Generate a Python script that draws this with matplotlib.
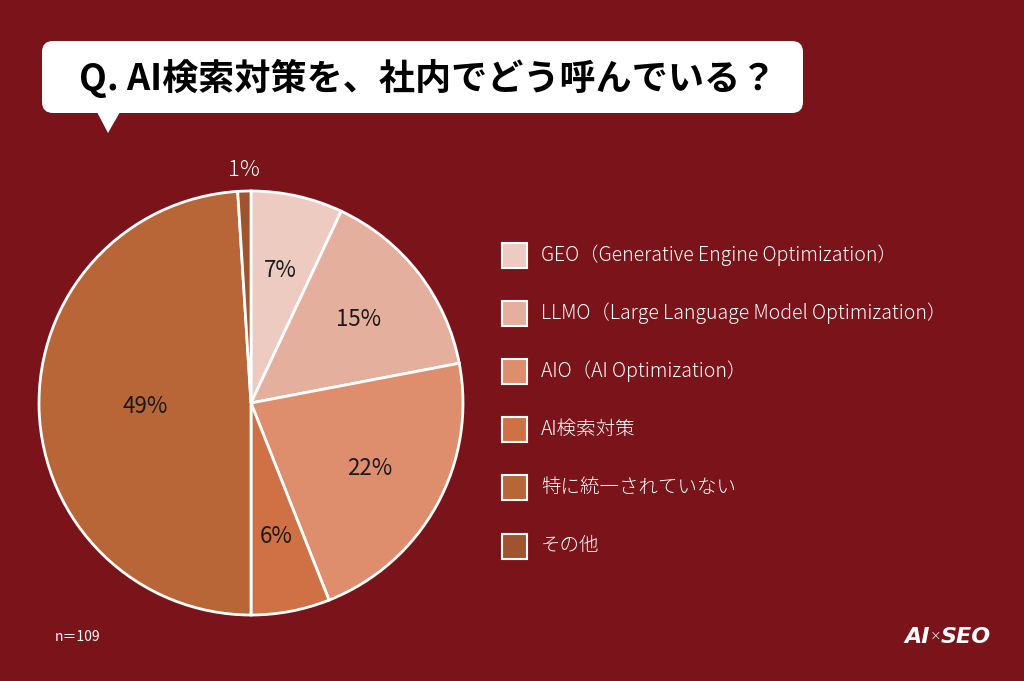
import matplotlib.pyplot as plt
from matplotlib.patches import FancyBboxPatch, Polygon, Rectangle

plt.rcParams['font.family'] = ['Noto Sans CJK JP', 'DejaVu Sans']

title = 'Q. AI検索対策を、社内でどう呼んでいる？'
labels = ['GEO（Generative Engine Optimization）',
          'LLMO（Large Language Model Optimization）',
          'AIO（AI Optimization）',
          'AI検索対策',
          '特に統一されていない',
          'その他']
shares = [7, 15, 22, 6, 49, 1]
colors = ['#EDCBC1', '#E5AF9D', '#DE8D6D', '#CF7144', '#B86538', '#A0532F']
n_text = 'n＝109'

W, H = 1024, 681
bg = '#7A141A'

fig = plt.figure(figsize=(W / 100, H / 100), dpi=100, facecolor=bg)
ax = fig.add_axes([0, 0, 1, 1])

def py(y):
    # convert top-down pixel y to axes y
    return H - y

# pie
cx, cy, r = 251, py(403), 212
wedges, texts, autotexts = ax.pie(
    shares, colors=colors, startangle=90, counterclock=False,
    center=(cx, cy), radius=r, autopct='%d%%', pctdistance=0.64,
    wedgeprops=dict(edgecolor='white', linewidth=2),
    textprops=dict(fontsize=16, color='#1a1a1a'))
ax.set_xlim(0, W)
ax.set_ylim(0, H)
ax.set_aspect('equal')
ax.axis('off')

for i, t in enumerate(autotexts):
    t.set_text(f'{shares[i]}%')
    x, y = t.get_position()
    if shares[i] == 49:
        k = 0.5 / 0.64
        t.set_position((cx + (x - cx) * k, cy + (y - cy) * k))
    if shares[i] == 1:
        k = 1.1 / 0.64
        t.set_position((cx + (x - cx) * k, cy + (y - cy) * k))
        t.set_color('white')
        t.set_fontweight('light')

# title bubble
bubble = FancyBboxPatch((42, py(113)), 761, 72,
                        boxstyle='round,pad=0,rounding_size=11',
                        fc='white', ec='none')
ax.add_patch(bubble)
ax.add_patch(Polygon([(97, py(112)), (120, py(112)), (108, py(133))],
                     closed=True, fc='white', ec='none'))
ax.text(428, py(78), title, ha='center', va='center', fontsize=26,
        fontweight='bold', color='black')

# legend
for i, (lab, col) in enumerate(zip(labels, colors)):
    yc = py(255 + i * 58.2)
    ax.add_patch(Rectangle((502, yc - 12.5), 25, 25, fc=col, ec='white', lw=1.5))
    ax.text(541, yc, lab, ha='left', va='center', fontsize=14, color='white',
            fontweight='light')

ax.text(55, py(637), n_text, ha='left', va='center', fontsize=10, color='white')

# logo
ax.text(930, py(637), 'AI', ha='right', va='center', fontsize=16,
        fontweight='black', fontstyle='italic', color='white',
        family=['DejaVu Sans'])
ax.text(936, py(636), '×', ha='center', va='center', fontsize=10,
        fontweight='light', color='white', family=['DejaVu Sans'])
ax.text(941, py(637), 'SEO', ha='left', va='center', fontsize=16,
        fontweight='black', fontstyle='italic', color='white',
        family=['DejaVu Sans'])

fig.savefig('out.png', dpi=100, facecolor=bg)
